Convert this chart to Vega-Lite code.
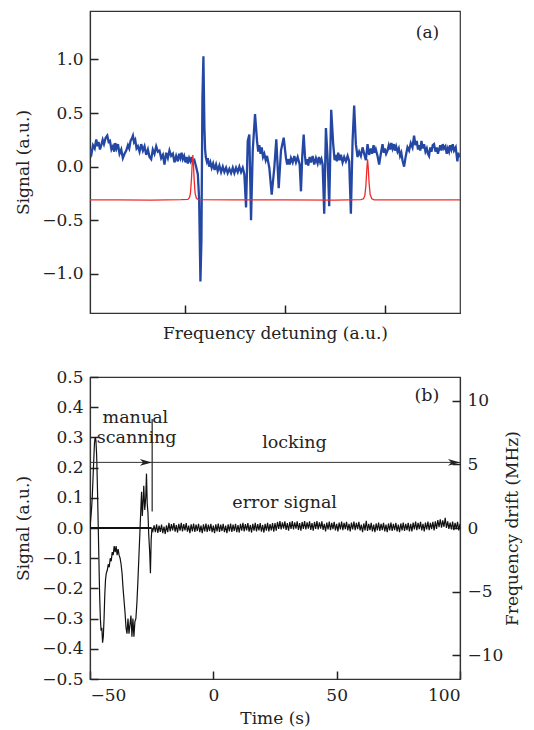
{
  "$schema": "https://vega.github.io/schema/vega-lite/v6.json",
  "padding": {"left": 14, "top": 10, "right": 5, "bottom": 2},
  "spacing": 25,
  "datasets": {
    "blue": [
      {"x": 0.047, "y": 0.16}, {"x": 0.062, "y": 0.12}, {"x": 0.077, "y": 0.2}, {"x": 0.094, "y": 0.17}, {"x": 0.11, "y": 0.255}, {"x": 0.122, "y": 0.19}, {"x": 0.133, "y": 0.23}, {"x": 0.147, "y": 0.16}, {"x": 0.16, "y": 0.2},
      {"x": 0.174, "y": 0.25}, {"x": 0.187, "y": 0.21}, {"x": 0.204, "y": 0.27}, {"x": 0.22, "y": 0.29}, {"x": 0.234, "y": 0.23}, {"x": 0.247, "y": 0.24}, {"x": 0.262, "y": 0.16}, {"x": 0.277, "y": 0.19}, {"x": 0.29, "y": 0.14}, {"x": 0.3, "y": 0.22},
      {"x": 0.313, "y": 0.17}, {"x": 0.327, "y": 0.21}, {"x": 0.343, "y": 0.12}, {"x": 0.36, "y": 0.16}, {"x": 0.376, "y": 0.08}, {"x": 0.393, "y": 0.12}, {"x": 0.41, "y": 0.15}, {"x": 0.427, "y": 0.2}, {"x": 0.44, "y": 0.17}, {"x": 0.453, "y": 0.24},
      {"x": 0.465, "y": 0.26}, {"x": 0.477, "y": 0.29}, {"x": 0.488, "y": 0.23}, {"x": 0.5, "y": 0.25}, {"x": 0.513, "y": 0.17}, {"x": 0.527, "y": 0.19}, {"x": 0.543, "y": 0.14}, {"x": 0.56, "y": 0.21}, {"x": 0.577, "y": 0.15}, {"x": 0.593, "y": 0.19},
      {"x": 0.61, "y": 0.11}, {"x": 0.627, "y": 0.16}, {"x": 0.643, "y": 0.09}, {"x": 0.66, "y": 0.07}, {"x": 0.676, "y": 0.16}, {"x": 0.693, "y": 0.12}, {"x": 0.71, "y": 0.19}, {"x": 0.727, "y": 0.14}, {"x": 0.743, "y": 0.15}, {"x": 0.76, "y": 0.08},
      {"x": 0.777, "y": 0.11}, {"x": 0.793, "y": 0.02}, {"x": 0.81, "y": 0.13}, {"x": 0.827, "y": 0.08}, {"x": 0.843, "y": 0.15}, {"x": 0.86, "y": 0.1}, {"x": 0.877, "y": 0.12}, {"x": 0.893, "y": 0.04}, {"x": 0.91, "y": 0.1}, {"x": 0.927, "y": 0.05},
      {"x": 0.94, "y": 0.12}, {"x": 0.953, "y": 0.08}, {"x": 0.965, "y": 0.13}, {"x": 0.977, "y": 0.07}, {"x": 0.99, "y": 0.1}, {"x": 1.003, "y": 0.04}, {"x": 1.015, "y": 0.09}, {"x": 1.027, "y": 0.03}, {"x": 1.04, "y": 0.08}, {"x": 1.053, "y": 0.05},
      {"x": 1.065, "y": 0.09}, {"x": 1.077, "y": 0.04}, {"x": 1.093, "y": 0.06}, {"x": 1.11, "y": 0.0}, {"x": 1.127, "y": -0.07}, {"x": 1.14, "y": -0.3},
      {"x": 1.153, "y": -1.07}, {"x": 1.163, "y": -0.69}, {"x": 1.173, "y": 0.64}, {"x": 1.183, "y": 1.03}, {"x": 1.193, "y": 0.36},
      {"x": 1.2, "y": 0.16}, {"x": 1.207, "y": 0.09}, {"x": 1.217, "y": 0.05}, {"x": 1.227, "y": 0.08}, {"x": 1.24, "y": 0.0}, {"x": 1.253, "y": 0.04}, {"x": 1.266, "y": -0.01}, {"x": 1.28, "y": 0.03}, {"x": 1.295, "y": -0.03}, {"x": 1.31, "y": 0.02},
      {"x": 1.326, "y": -0.04}, {"x": 1.343, "y": 0.01}, {"x": 1.36, "y": -0.05}, {"x": 1.377, "y": 0.0}, {"x": 1.393, "y": -0.05}, {"x": 1.41, "y": -0.01}, {"x": 1.426, "y": -0.06}, {"x": 1.443, "y": -0.02}, {"x": 1.46, "y": -0.06}, {"x": 1.477, "y": -0.01},
      {"x": 1.493, "y": -0.06}, {"x": 1.51, "y": -0.01}, {"x": 1.527, "y": -0.05}, {"x": 1.543, "y": 0.0}, {"x": 1.56, "y": -0.05}, {"x": 1.577, "y": -0.01}, {"x": 1.593, "y": -0.07}, {"x": 1.61, "y": -0.38},
      {"x": 1.627, "y": 0.24}, {"x": 1.643, "y": 0.3}, {"x": 1.66, "y": -0.5}, {"x": 1.677, "y": 0.15}, {"x": 1.7, "y": 0.49},
      {"x": 1.72, "y": 0.24}, {"x": 1.732, "y": 0.14}, {"x": 1.743, "y": 0.2}, {"x": 1.755, "y": 0.12}, {"x": 1.767, "y": 0.18}, {"x": 1.78, "y": 0.09}, {"x": 1.793, "y": 0.12}, {"x": 1.807, "y": 0.06}, {"x": 1.82, "y": 0.1},
      {"x": 1.843, "y": -0.01}, {"x": 1.867, "y": -0.26}, {"x": 1.893, "y": -0.01}, {"x": 1.913, "y": 0.255}, {"x": 1.937, "y": -0.2},
      {"x": 1.96, "y": 0.15}, {"x": 1.987, "y": 0.27}, {"x": 2.01, "y": 0.08}, {"x": 2.022, "y": 0.02}, {"x": 2.033, "y": 0.07}, {"x": 2.047, "y": 0.02}, {"x": 2.06, "y": 0.08}, {"x": 2.077, "y": 0.04},
      {"x": 2.093, "y": 0.1}, {"x": 2.11, "y": 0.04}, {"x": 2.127, "y": 0.09}, {"x": 2.147, "y": 0.02}, {"x": 2.16, "y": -0.23}, {"x": 2.173, "y": 0.1},
      {"x": 2.187, "y": 0.3}, {"x": 2.2, "y": 0.1}, {"x": 2.21, "y": 0.02}, {"x": 2.222, "y": 0.07}, {"x": 2.233, "y": 0.01}, {"x": 2.247, "y": 0.09}, {"x": 2.26, "y": 0.04}, {"x": 2.277, "y": 0.1}, {"x": 2.293, "y": 0.02},
      {"x": 2.31, "y": 0.08}, {"x": 2.327, "y": 0.03}, {"x": 2.34, "y": 0.09}, {"x": 2.353, "y": 0.04}, {"x": 2.365, "y": 0.07}, {"x": 2.377, "y": 0.02}, {"x": 2.393, "y": -0.44}, {"x": 2.41, "y": 0.36},
      {"x": 2.427, "y": 0.08}, {"x": 2.443, "y": -0.37}, {"x": 2.463, "y": 0.53}, {"x": 2.483, "y": 0.21}, {"x": 2.497, "y": 0.06}, {"x": 2.51, "y": 0.11},
      {"x": 2.52, "y": 0.05}, {"x": 2.533, "y": 0.13}, {"x": 2.547, "y": 0.06}, {"x": 2.56, "y": 0.11}, {"x": 2.577, "y": 0.04}, {"x": 2.593, "y": 0.09}, {"x": 2.61, "y": 0.05}, {"x": 2.627, "y": 0.1}, {"x": 2.643, "y": 0.05},
      {"x": 2.66, "y": -0.44}, {"x": 2.677, "y": 0.24}, {"x": 2.693, "y": 0.57}, {"x": 2.71, "y": 0.21}, {"x": 2.727, "y": 0.09},
      {"x": 2.743, "y": 0.14}, {"x": 2.76, "y": 0.1}, {"x": 2.777, "y": 0.18}, {"x": 2.793, "y": 0.12}, {"x": 2.81, "y": 0.06}, {"x": 2.827, "y": 0.21}, {"x": 2.843, "y": 0.11}, {"x": 2.86, "y": 0.17},
      {"x": 2.873, "y": 0.12}, {"x": 2.887, "y": 0.2}, {"x": 2.9, "y": 0.13}, {"x": 2.91, "y": 0.16}, {"x": 2.927, "y": 0.1}, {"x": 2.943, "y": 0.02}, {"x": 2.96, "y": 0.12}, {"x": 2.977, "y": 0.21},
      {"x": 2.99, "y": 0.13}, {"x": 3.0, "y": 0.17}, {"x": 3.013, "y": 0.12}, {"x": 3.027, "y": 0.15}, {"x": 3.04, "y": 0.2}, {"x": 3.053, "y": 0.16}, {"x": 3.065, "y": 0.22}, {"x": 3.077, "y": 0.17}, {"x": 3.09, "y": 0.21}, {"x": 3.1, "y": 0.15},
      {"x": 3.113, "y": 0.19}, {"x": 3.127, "y": 0.14}, {"x": 3.14, "y": 0.17}, {"x": 3.153, "y": 0.1}, {"x": 3.165, "y": 0.13}, {"x": 3.177, "y": 0.06}, {"x": 3.193, "y": 0.0}, {"x": 3.21, "y": 0.1},
      {"x": 3.227, "y": 0.18}, {"x": 3.243, "y": 0.15}, {"x": 3.26, "y": 0.22}, {"x": 3.277, "y": 0.18}, {"x": 3.293, "y": 0.29}, {"x": 3.307, "y": 0.2}, {"x": 3.32, "y": 0.24}, {"x": 3.332, "y": 0.16}, {"x": 3.343, "y": 0.2},
      {"x": 3.355, "y": 0.15}, {"x": 3.367, "y": 0.24}, {"x": 3.38, "y": 0.17}, {"x": 3.393, "y": 0.21}, {"x": 3.407, "y": 0.14}, {"x": 3.42, "y": 0.17}, {"x": 3.432, "y": 0.12}, {"x": 3.443, "y": 0.1}, {"x": 3.455, "y": 0.18}, {"x": 3.467, "y": 0.14},
      {"x": 3.48, "y": 0.2}, {"x": 3.493, "y": 0.21}, {"x": 3.507, "y": 0.14}, {"x": 3.52, "y": 0.18}, {"x": 3.532, "y": 0.12}, {"x": 3.543, "y": 0.16}, {"x": 3.555, "y": 0.2}, {"x": 3.567, "y": 0.15}, {"x": 3.58, "y": 0.21}, {"x": 3.593, "y": 0.17},
      {"x": 3.607, "y": 0.19}, {"x": 3.62, "y": 0.12}, {"x": 3.632, "y": 0.17}, {"x": 3.643, "y": 0.14}, {"x": 3.655, "y": 0.2}, {"x": 3.667, "y": 0.16}, {"x": 3.68, "y": 0.21}, {"x": 3.693, "y": 0.15}, {"x": 3.71, "y": 0.18},
      {"x": 3.72, "y": 0.1}, {"x": 3.727, "y": 0.05}, {"x": 3.735, "y": 0.13}, {"x": 3.743, "y": 0.1}, {"x": 3.753, "y": 0.115}
    ],
    "red": [
      {"x": 0.047, "y": -0.31}, {"x": 0.327, "y": -0.31}, {"x": 0.66, "y": -0.312}, {"x": 0.96, "y": -0.308}, {"x": 1.027, "y": -0.305},
      {"x": 1.043, "y": -0.29}, {"x": 1.053, "y": -0.25}, {"x": 1.063, "y": -0.12}, {"x": 1.07, "y": 0.02}, {"x": 1.077, "y": 0.109},
      {"x": 1.083, "y": 0.03}, {"x": 1.09, "y": -0.12}, {"x": 1.1, "y": -0.25}, {"x": 1.113, "y": -0.295}, {"x": 1.133, "y": -0.308},
      {"x": 1.493, "y": -0.31}, {"x": 1.993, "y": -0.31}, {"x": 2.493, "y": -0.312}, {"x": 2.76, "y": -0.308}, {"x": 2.787, "y": -0.3},
      {"x": 2.8, "y": -0.27}, {"x": 2.81, "y": -0.18}, {"x": 2.82, "y": -0.02}, {"x": 2.827, "y": 0.068}, {"x": 2.833, "y": 0.0},
      {"x": 2.843, "y": -0.16}, {"x": 2.853, "y": -0.26}, {"x": 2.87, "y": -0.3}, {"x": 2.893, "y": -0.31}, {"x": 3.327, "y": -0.31},
      {"x": 3.753, "y": -0.31}
    ],
    "err": [
      {"t": -50, "v": 0.0}, {"t": -49.7, "v": 0.03}, {"t": -49.4, "v": 0.06}, {"t": -49.1, "v": 0.1}, {"t": -48.8, "v": 0.16},
      {"t": -48.5, "v": 0.22}, {"t": -48.2, "v": 0.28}, {"t": -47.9, "v": 0.3}, {"t": -47.6, "v": 0.29}, {"t": -47.3, "v": 0.24},
      {"t": -47, "v": 0.14}, {"t": -46.7, "v": 0.02}, {"t": -46.4, "v": -0.1}, {"t": -46.1, "v": -0.22}, {"t": -45.8, "v": -0.3},
      {"t": -45.5, "v": -0.34}, {"t": -45.2, "v": -0.33}, {"t": -44.9, "v": -0.38}, {"t": -44.6, "v": -0.36}, {"t": -44.3, "v": -0.3},
      {"t": -44, "v": -0.22}, {"t": -43.7, "v": -0.17}, {"t": -43.4, "v": -0.15}, {"t": -43, "v": -0.14}, {"t": -42.6, "v": -0.12},
      {"t": -42.2, "v": -0.13}, {"t": -41.8, "v": -0.1}, {"t": -41.4, "v": -0.11}, {"t": -41, "v": -0.08}, {"t": -40.6, "v": -0.09},
      {"t": -40.2, "v": -0.06}, {"t": -39.8, "v": -0.08}, {"t": -39.4, "v": -0.06}, {"t": -39, "v": -0.09}, {"t": -38.6, "v": -0.07},
      {"t": -38.2, "v": -0.09}, {"t": -37.8, "v": -0.1}, {"t": -37.4, "v": -0.12}, {"t": -37, "v": -0.15}, {"t": -36.6, "v": -0.2},
      {"t": -36.2, "v": -0.24}, {"t": -35.8, "v": -0.28}, {"t": -35.4, "v": -0.33}, {"t": -35, "v": -0.35}, {"t": -34.6, "v": -0.3},
      {"t": -34.2, "v": -0.35}, {"t": -33.8, "v": -0.32}, {"t": -33.4, "v": -0.29}, {"t": -33, "v": -0.36}, {"t": -32.6, "v": -0.3},
      {"t": -32.2, "v": -0.36}, {"t": -31.8, "v": -0.31}, {"t": -31.4, "v": -0.3}, {"t": -31, "v": -0.25}, {"t": -30.6, "v": -0.18},
      {"t": -30.2, "v": -0.1}, {"t": -29.8, "v": -0.02}, {"t": -29.4, "v": 0.06}, {"t": -29.1, "v": 0.12}, {"t": -28.8, "v": 0.04},
      {"t": -28.5, "v": 0.08}, {"t": -28.2, "v": 0.14}, {"t": -27.8, "v": 0.06}, {"t": -27.4, "v": 0.1}, {"t": -27.1, "v": 0.18},
      {"t": -26.8, "v": 0.08}, {"t": -26.5, "v": 0.05}, {"t": -26.2, "v": -0.02}, {"t": -25.8, "v": -0.08}, {"t": -25.5, "v": -0.15},
      {"t": -25.2, "v": -0.04}, {"t": -24.9, "v": 0.0}, {"t": -24.5, "v": -0.01},
      {"t": -24, "v": 0.009}, {"t": -23.5, "v": -0.014}, {"t": -23, "v": 0.012}, {"t": -22.5, "v": -0.016}, {"t": -22, "v": 0.008}, {"t": -21.5, "v": -0.013}, {"t": -21, "v": 0.011}, {"t": -20.5, "v": -0.017}, {"t": -20, "v": 0.005}, {"t": -19.5, "v": -0.02},
      {"t": -19, "v": 0.009}, {"t": -18.5, "v": -0.014}, {"t": -18, "v": 0.017}, {"t": -17.5, "v": -0.011}, {"t": -17, "v": 0.013}, {"t": -16.5, "v": -0.008}, {"t": -16, "v": 0.016}, {"t": -15.5, "v": -0.012}, {"t": -15, "v": 0.01}, {"t": -14.5, "v": -0.015},
      {"t": -14, "v": 0.014}, {"t": -13.5, "v": -0.009}, {"t": -13, "v": 0.017}, {"t": -12.5, "v": -0.011}, {"t": -12, "v": 0.013}, {"t": -11.5, "v": -0.008}, {"t": -11, "v": 0.016}, {"t": -10.5, "v": -0.012}, {"t": -10, "v": 0.008}, {"t": -9.5, "v": -0.017},
      {"t": -9, "v": 0.012}, {"t": -8.5, "v": -0.011}, {"t": -8, "v": 0.015}, {"t": -7.5, "v": -0.013}, {"t": -7, "v": 0.011}, {"t": -6.5, "v": -0.01}, {"t": -6, "v": 0.014}, {"t": -5.5, "v": -0.014}, {"t": -5, "v": 0.008}, {"t": -4.5, "v": -0.017},
      {"t": -4, "v": 0.012}, {"t": -3.5, "v": -0.011}, {"t": -3, "v": 0.015}, {"t": -2.5, "v": -0.013}, {"t": -2, "v": 0.011}, {"t": -1.5, "v": -0.01}, {"t": -1, "v": 0.014}, {"t": -0.5, "v": -0.014}, {"t": 0, "v": 0.008}, {"t": 0.5, "v": -0.017},
      {"t": 1, "v": 0.012}, {"t": 1.5, "v": -0.011}, {"t": 2, "v": 0.015}, {"t": 2.5, "v": -0.013}, {"t": 3, "v": 0.011}, {"t": 3.5, "v": -0.01}, {"t": 4, "v": 0.014}, {"t": 4.5, "v": -0.014}, {"t": 5, "v": 0.008}, {"t": 5.5, "v": -0.017},
      {"t": 6, "v": 0.012}, {"t": 6.5, "v": -0.011}, {"t": 7, "v": 0.015}, {"t": 7.5, "v": -0.013}, {"t": 8, "v": 0.011}, {"t": 8.5, "v": -0.01}, {"t": 9, "v": 0.014}, {"t": 9.5, "v": -0.014}, {"t": 10, "v": 0.01}, {"t": 10.5, "v": -0.015},
      {"t": 11, "v": 0.014}, {"t": 11.5, "v": -0.009}, {"t": 12, "v": 0.017}, {"t": 12.5, "v": -0.011}, {"t": 13, "v": 0.013}, {"t": 13.5, "v": -0.008}, {"t": 14, "v": 0.016}, {"t": 14.5, "v": -0.012}, {"t": 15, "v": 0.01}, {"t": 15.5, "v": -0.015},
      {"t": 16, "v": 0.014}, {"t": 16.5, "v": -0.009}, {"t": 17, "v": 0.017}, {"t": 17.5, "v": -0.011}, {"t": 18, "v": 0.013}, {"t": 18.5, "v": -0.008}, {"t": 19, "v": 0.016}, {"t": 19.5, "v": -0.012}, {"t": 20, "v": 0.01}, {"t": 20.5, "v": -0.015},
      {"t": 21, "v": 0.014}, {"t": 21.5, "v": -0.009}, {"t": 22, "v": 0.017}, {"t": 22.5, "v": -0.011}, {"t": 23, "v": 0.013}, {"t": 23.5, "v": -0.008}, {"t": 24, "v": 0.016}, {"t": 24.5, "v": -0.012}, {"t": 25, "v": 0.016}, {"t": 25.5, "v": -0.009},
      {"t": 26, "v": 0.02}, {"t": 26.5, "v": -0.003}, {"t": 27, "v": 0.023}, {"t": 27.5, "v": -0.005}, {"t": 28, "v": 0.019}, {"t": 28.5, "v": -0.002}, {"t": 29, "v": 0.022}, {"t": 29.5, "v": -0.006}, {"t": 30, "v": 0.016}, {"t": 30.5, "v": -0.009},
      {"t": 31, "v": 0.02}, {"t": 31.5, "v": -0.003}, {"t": 32, "v": 0.023}, {"t": 32.5, "v": -0.005}, {"t": 33, "v": 0.019}, {"t": 33.5, "v": -0.002}, {"t": 34, "v": 0.022}, {"t": 34.5, "v": -0.006}, {"t": 35, "v": 0.016}, {"t": 35.5, "v": -0.009},
      {"t": 36, "v": 0.02}, {"t": 36.5, "v": -0.003}, {"t": 37, "v": 0.023}, {"t": 37.5, "v": -0.005}, {"t": 38, "v": 0.019}, {"t": 38.5, "v": -0.002}, {"t": 39, "v": 0.022}, {"t": 39.5, "v": -0.006}, {"t": 40, "v": 0.016}, {"t": 40.5, "v": -0.009},
      {"t": 41, "v": 0.02}, {"t": 41.5, "v": -0.003}, {"t": 42, "v": 0.023}, {"t": 42.5, "v": -0.005}, {"t": 43, "v": 0.019}, {"t": 43.5, "v": -0.002}, {"t": 44, "v": 0.022}, {"t": 44.5, "v": -0.006}, {"t": 45, "v": 0.014}, {"t": 45.5, "v": -0.011},
      {"t": 46, "v": 0.018}, {"t": 46.5, "v": -0.005}, {"t": 47, "v": 0.021}, {"t": 47.5, "v": -0.007}, {"t": 48, "v": 0.017}, {"t": 48.5, "v": -0.004}, {"t": 49, "v": 0.02}, {"t": 49.5, "v": -0.008}, {"t": 50, "v": 0.014}, {"t": 50.5, "v": -0.011},
      {"t": 51, "v": 0.018}, {"t": 51.5, "v": -0.005}, {"t": 52, "v": 0.021}, {"t": 52.5, "v": -0.007}, {"t": 53, "v": 0.017}, {"t": 53.5, "v": -0.004}, {"t": 54, "v": 0.02}, {"t": 54.5, "v": -0.008}, {"t": 55, "v": 0.014}, {"t": 55.5, "v": -0.011},
      {"t": 56, "v": 0.018}, {"t": 56.5, "v": -0.005}, {"t": 57, "v": 0.021}, {"t": 57.5, "v": -0.007}, {"t": 58, "v": 0.017}, {"t": 58.5, "v": -0.004}, {"t": 59, "v": 0.02}, {"t": 59.5, "v": -0.008}, {"t": 60, "v": 0.011}, {"t": 60.5, "v": -0.014},
      {"t": 61, "v": 0.015}, {"t": 61.5, "v": -0.008}, {"t": 62, "v": 0.024}, {"t": 62.5, "v": -0.01}, {"t": 63, "v": 0.014}, {"t": 63.5, "v": -0.007}, {"t": 64, "v": 0.017}, {"t": 64.5, "v": -0.011}, {"t": 65, "v": 0.011}, {"t": 65.5, "v": -0.014},
      {"t": 66, "v": 0.015}, {"t": 66.5, "v": -0.008}, {"t": 67, "v": 0.018}, {"t": 67.5, "v": -0.01}, {"t": 68, "v": 0.014}, {"t": 68.5, "v": -0.007}, {"t": 69, "v": 0.017}, {"t": 69.5, "v": -0.011}, {"t": 70, "v": 0.011}, {"t": 70.5, "v": -0.014},
      {"t": 71, "v": 0.015}, {"t": 71.5, "v": -0.008}, {"t": 72, "v": 0.018}, {"t": 72.5, "v": -0.01}, {"t": 73, "v": 0.014}, {"t": 73.5, "v": -0.007}, {"t": 74, "v": 0.017}, {"t": 74.5, "v": -0.011}, {"t": 75, "v": 0.011}, {"t": 75.5, "v": -0.014},
      {"t": 76, "v": 0.015}, {"t": 76.5, "v": -0.008}, {"t": 77, "v": 0.018}, {"t": 77.5, "v": -0.01}, {"t": 78, "v": 0.014}, {"t": 78.5, "v": -0.007}, {"t": 79, "v": 0.017}, {"t": 79.5, "v": -0.011}, {"t": 80, "v": 0.014}, {"t": 80.5, "v": -0.011},
      {"t": 81, "v": 0.018}, {"t": 81.5, "v": -0.005}, {"t": 82, "v": 0.021}, {"t": 82.5, "v": -0.007}, {"t": 83, "v": 0.017}, {"t": 83.5, "v": -0.004}, {"t": 84, "v": 0.02}, {"t": 84.5, "v": -0.008}, {"t": 85, "v": 0.014}, {"t": 85.5, "v": -0.011},
      {"t": 86, "v": 0.018}, {"t": 86.5, "v": -0.005}, {"t": 87, "v": 0.021}, {"t": 87.5, "v": -0.007}, {"t": 88, "v": 0.017}, {"t": 88.5, "v": -0.004}, {"t": 89, "v": 0.02}, {"t": 89.5, "v": -0.008}, {"t": 90, "v": 0.022}, {"t": 90.5, "v": -0.003},
      {"t": 91, "v": 0.026}, {"t": 91.5, "v": 0.003}, {"t": 92, "v": 0.029}, {"t": 92.5, "v": 0.001}, {"t": 93, "v": 0.025}, {"t": 93.5, "v": 0.004}, {"t": 94, "v": 0.034}, {"t": 94.5, "v": 0.0}, {"t": 95, "v": 0.022}, {"t": 95.5, "v": -0.003},
      {"t": 96, "v": 0.018}, {"t": 96.5, "v": -0.005}, {"t": 97, "v": 0.021}, {"t": 97.5, "v": -0.007}, {"t": 98, "v": 0.017}, {"t": 98.5, "v": -0.004}, {"t": 99, "v": 0.02}, {"t": 99.5, "v": -0.008}, {"t": 100, "v": 0.014}
    ]
  },
  "vconcat": [
    {
      "width": 370,
      "height": 302,
      "layer": [
        {
          "data": {"name": "blue"},
          "mark": {"type": "line", "color": "#2347a3", "strokeWidth": 2.3, "clip": true},
          "encoding": {
            "x": {"field": "x", "type": "quantitative", "scale": {"domain": [0.047, 3.753], "nice": false, "zero": false},
                  "axis": {"orient": "bottom", "values": [1, 2, 3], "labels": false, "ticks": false, "title": "Frequency detuning (a.u.)", "titlePadding": 12}},
            "y": {"field": "y", "type": "quantitative", "scale": {"domain": [-1.365, 1.452], "nice": false, "zero": false},
                  "axis": {"orient": "left", "values": [-1, -0.5, 0, 0.5, 1], "format": ".1f", "ticks": false, "labelOverlap": false, "title": "Signal (a.u.)", "titlePadding": 9}}
          }
        },
        {
          "data": {"name": "red"},
          "mark": {"type": "line", "color": "#f02a2a", "strokeWidth": 1.3, "clip": true},
          "encoding": {
            "x": {"field": "x", "type": "quantitative", "scale": {"domain": [0.047, 3.753], "nice": false, "zero": false},
                  "axis": {"orient": "bottom", "offset": -8, "values": [1, 2, 3], "domain": false, "labels": false, "ticks": true, "tickSize": 8, "title": null}},
            "y": {"field": "y", "type": "quantitative", "scale": {"domain": [-1.365, 1.452], "nice": false, "zero": false},
                  "axis": {"orient": "left", "offset": -8, "values": [-1, -0.5, 0, 0.5, 1], "domain": false, "labels": false, "ticks": true, "tickSize": 8, "title": null}}
          }
        },
        {
          "data": {"values": [{"x": 3.427, "y": 1.198, "label": "(a)"}]},
          "mark": {"type": "text", "font": "DejaVu Serif", "fontSize": 17, "color": "#222", "align": "center", "baseline": "alphabetic"},
          "encoding": {
            "x": {"field": "x", "type": "quantitative", "axis": null},
            "y": {"field": "y", "type": "quantitative", "axis": null},
            "text": {"field": "label"}
          }
        }
      ],
      "resolve": {"axis": {"x": "independent", "y": "independent"}}
    },
    {
      "width": 370,
      "height": 302,
      "layer": [
        {
          "layer": [
            {
              "data": {"name": "err"},
              "mark": {"type": "line", "color": "#111", "strokeWidth": 1.2, "clip": true},
              "encoding": {
                "x": {"field": "t", "type": "quantitative", "scale": {"domain": [-50, 100], "nice": false, "zero": false},
                      "axis": {"orient": "bottom", "values": [-50, 0, 50, 100], "ticks": false, "labelPadding": 8, "title": "Time (s)", "titlePadding": 7}},
                "y": {"field": "v", "type": "quantitative", "scale": {"domain": [-0.5, 0.5], "nice": false, "zero": false},
                      "axis": {"orient": "left", "values": [-0.5, -0.4, -0.3, -0.2, -0.1, 0, 0.1, 0.2, 0.3, 0.4, 0.5], "format": ".1f", "ticks": false, "labelOverlap": false, "title": "Signal (a.u.)", "titlePadding": 9}}
              }
            },
            {
              "data": {"values": [{"t": -50, "t2": -25, "v": 0}]},
              "mark": {"type": "rule", "color": "#111", "strokeWidth": 2},
              "encoding": {
                "x": {"field": "t", "type": "quantitative",
                      "axis": {"orient": "bottom", "offset": -8, "values": [-50, 0, 50, 100], "domain": false, "labels": false, "ticks": true, "tickSize": 8, "title": null}},
                "x2": {"field": "t2"},
                "y": {"field": "v", "type": "quantitative",
                      "axis": {"orient": "left", "offset": -8, "values": [-0.5, -0.4, -0.3, -0.2, -0.1, 0, 0.1, 0.2, 0.3, 0.4, 0.5], "domain": false, "labels": false, "ticks": true, "tickSize": 8, "title": null}}
              }
            },
            {
              "data": {"values": [{"t": -24.8, "v": 0.055, "v2": 0.361}]},
              "mark": {"type": "rule", "color": "#222", "strokeWidth": 1.2},
              "encoding": {
                "x": {"field": "t", "type": "quantitative", "axis": null},
                "y": {"field": "v", "type": "quantitative", "axis": null},
                "y2": {"field": "v2"}
              }
            },
            {
              "data": {"values": [
                {"t": -31.6, "v": 0.347, "label": "manual"},
                {"t": -31.1, "v": 0.28, "label": "scanning"},
                {"t": 32.9, "v": 0.264, "label": "locking"},
                {"t": 28.9, "v": 0.066, "label": "error signal"},
                {"t": 86.6, "v": 0.419, "label": "(b)"}
              ]},
              "mark": {"type": "text", "font": "DejaVu Serif", "fontSize": 17.5, "color": "#222", "align": "center", "baseline": "alphabetic"},
              "encoding": {
                "x": {"field": "t", "type": "quantitative", "axis": null},
                "y": {"field": "v", "type": "quantitative", "axis": null},
                "text": {"field": "label"}
              }
            }
          ],
          "resolve": {"axis": {"x": "independent", "y": "independent"}}
        },
        {
          "layer": [
            {
              "data": {"values": [{"t": -50, "t2": 100, "f": 5.15}]},
              "mark": {"type": "rule", "color": "#333", "strokeWidth": 1},
              "encoding": {
                "x": {"field": "t", "type": "quantitative", "axis": null},
                "x2": {"field": "t2"},
                "y": {"field": "f", "type": "quantitative", "scale": {"domain": [-11.85, 11.85], "nice": false, "zero": false},
                      "axis": {"orient": "right", "values": [-10, -5, 0, 5, 10], "ticks": false, "labelOverlap": false, "title": "Frequency drift (MHz)", "titleAngle": 270, "titlePadding": 19}}
              }
            },
            {
              "data": {"values": [{"t": -24.9, "f": 5.15}, {"t": 100, "f": 5.15}]},
              "mark": {"type": "point", "shape": "M0,0L-2,-0.55L-1.45,0L-2,0.55Z", "filled": true, "size": 144, "color": "#222", "opacity": 1},
              "encoding": {
                "x": {"field": "t", "type": "quantitative", "axis": null},
                "y": {"field": "f", "type": "quantitative",
                      "axis": {"orient": "right", "offset": -8, "values": [-10, -5, 0, 5, 10], "domain": false, "labels": false, "ticks": true, "tickSize": 8, "title": null}}
              }
            }
          ],
          "resolve": {"axis": {"y": "independent"}}
        }
      ],
      "resolve": {"scale": {"y": "independent"}, "axis": {"x": "independent", "y": "independent"}}
    }
  ],
  "config": {
    "view": {"stroke": "#333", "strokeWidth": 1.2},
    "axis": {
      "grid": false,
      "domainColor": "#333",
      "domainWidth": 1.2,
      "tickColor": "#222",
      "tickWidth": 1.5,
      "labelPadding": 7,
      "labelOverlap": false,
      "labelFont": "DejaVu Serif",
      "labelFontSize": 17,
      "labelColor": "#222",
      "titleFont": "DejaVu Serif",
      "titleFontSize": 17,
      "titleFontWeight": "normal",
      "titleColor": "#222"
    }
  }
}
